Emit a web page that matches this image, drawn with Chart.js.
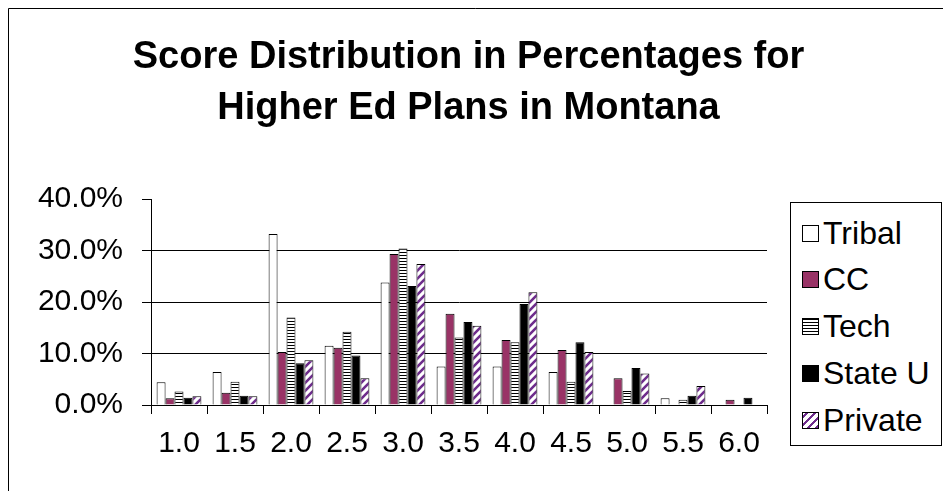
<!DOCTYPE html>
<html>
<head>
<meta charset="utf-8">
<script src="https://cdn.jsdelivr.net/npm/chart.js@4"></script>
<style>
  html, body { margin: 0; padding: 0; background: #fff; }
  #wrap { position: relative; width: 943px; height: 491px; overflow: hidden; }
  #legend {
    position: absolute; left: 790px; top: 202px; width: 152px; height: 244px;
    border: 1px solid #000; box-sizing: border-box; background: #fff;
    font-family: 'Liberation Sans', Arial, sans-serif; font-size: 32px; color: #000;
  }
  .item { position: absolute; left: 11px; height: 32px; display: flex; align-items: center; white-space: nowrap; }
  .sw { width: 17px; height: 17px; border: 1px solid #000; box-sizing: border-box; margin-right: 4px; flex: none; }
</style>
</head>
<body>
<div id="wrap">
  <canvas id="c" width="943" height="491"></canvas>
  <div id="legend"></div>
</div>
<script>
// Score categories along the x axis
const categories = ['1.0', '1.5', '2.0', '2.5', '3.0', '3.5', '4.0', '4.5', '5.0', '5.5', '6.0'];

// Share of scores (%) per institution type
const tribal  = [4.4, 6.4, 33.2, 11.5, 23.8, 7.5, 7.5, 6.4, 0, 1.3, 0];
const cc      = [1.3, 2.4, 10.3, 11.1, 29.3, 17.7, 12.6, 10.7, 5.2, 0, 1.0];
const tech    = [2.6, 4.5, 17.0, 14.2, 30.4, 13.1, 12.2, 4.5, 2.7, 1.0, 0];
const stateU  = [1.4, 1.8, 8.1, 9.6, 23.1, 16.1, 19.6, 12.2, 7.2, 1.8, 1.4];
const privateU = [1.7, 1.7, 8.7, 5.2, 27.4, 15.4, 21.9, 10.3, 6.1, 3.7, 0];

const seriesNames = ['Tribal', 'CC', 'Tech', 'State U', 'Private'];
const titleLines = ['Score Distribution in Percentages for', 'Higher Ed Plans in Montana'];

const FONT = "'Liberation Sans', Arial, sans-serif";
const MAROON = '#993366';
const PURPLE = '#6E2C8C';

const canvas = document.getElementById('c');
const ctx = canvas.getContext('2d');

// Horizontal black/white stripes
function hStripes() {
  const t = document.createElement('canvas');
  t.width = 4; t.height = 3;
  const g = t.getContext('2d');
  g.fillStyle = '#fff'; g.fillRect(0, 0, 4, 3);
  g.fillStyle = '#000'; g.fillRect(0, 0, 4, 1);
  return ctx.createPattern(t, 'repeat');
}

// Diagonal purple/white stripes rising to the right
function dStripes() {
  const t = document.createElement('canvas');
  t.width = 8; t.height = 8;
  const g = t.getContext('2d');
  g.fillStyle = '#fff'; g.fillRect(0, 0, 8, 8);
  g.strokeStyle = PURPLE; g.lineWidth = 2.6;
  g.beginPath();
  g.moveTo(-2, 10); g.lineTo(10, -2);
  g.moveTo(-6, 6); g.lineTo(6, -6);
  g.moveTo(2, 14); g.lineTo(14, 2);
  g.stroke();
  return ctx.createPattern(t, 'repeat');
}

const fills = ['#fff', MAROON, hStripes(), '#000', dStripes()];
const swatchCss = [
  'background:#fff',
  'background:' + MAROON,
  'background:repeating-linear-gradient(to bottom,#000 0 1px,#fff 1px 3px)',
  'background:#000',
  'background:repeating-linear-gradient(135deg,#fff 0 2px,' + PURPLE + ' 2px 4px,#fff 4px 5.6px)'
];
const seriesData = [tribal, cc, tech, stateU, privateU];

// Outer frame of the chart object
const frame = {
  id: 'frame',
  beforeDraw(chart) {
    const c = chart.ctx;
    c.save();
    c.fillStyle = '#fff';
    c.fillRect(0, 0, chart.width, chart.height);
    c.strokeStyle = '#000';
    c.lineWidth = 1;
    c.beginPath();
    c.moveTo(8.5, chart.height);
    c.lineTo(8.5, 8.5);
    c.lineTo(chart.width, 8.5);
    c.stroke();
    c.restore();
  }
};

Chart.defaults.font.family = FONT;
Chart.defaults.color = '#000';

new Chart(canvas, {
  type: 'bar',
  data: {
    labels: categories,
    datasets: seriesNames.map((name, i) => ({
      label: name,
      data: seriesData[i],
      backgroundColor: fills[i],
      borderColor: '#000',
      borderWidth: 1
    }))
  },
  options: {
    responsive: false,
    animation: false,
    devicePixelRatio: 1,
    layout: { padding: { top: 9, left: 0, right: 6, bottom: 24 } },
    datasets: { bar: { categoryPercentage: 0.8, barPercentage: 1 } },
    plugins: {
      legend: { display: false },
      tooltip: { enabled: false },
      title: {
        display: true,
        text: titleLines,
        color: '#000',
        font: { size: 38, weight: 'bold', lineHeight: '51px' },
        padding: { top: 23.5, bottom: 64.5 }
      }
    },
    scales: {
      x: {
        grid: { display: true, drawOnChartArea: false, drawTicks: true, tickLength: 9, color: '#000', tickColor: '#000', offset: true },
        border: { display: true, color: '#000', width: 1 },
        ticks: { color: '#000', font: { size: 30 }, padding: 12, maxRotation: 0, autoSkip: false },
        afterFit: s => { s.height = 62; }
      },
      y: {
        min: 0,
        max: 40,
        ticks: { stepSize: 10, color: '#000', font: { size: 30 }, padding: 19, callback: v => v.toFixed(1) + '%' },
        grid: {
          color: c => (c.tick && c.tick.value === 40 ? 'rgba(0,0,0,0)' : '#000'),
          tickColor: '#000',
          tickLength: 9,
          lineWidth: 1
        },
        border: { display: true, color: '#000' },
        afterFit: s => { s.width = 151; }
      },
      spacer: {
        type: 'linear',
        axis: 'y',
        position: 'right',
        display: true,
        grid: { display: false },
        border: { display: false },
        ticks: { display: false },
        afterFit: s => { s.width = 170; }
      }
    }
  },
  plugins: [frame]
});

// Legend box on the right
const legend = document.getElementById('legend');
seriesNames.forEach((name, i) => {
  const item = document.createElement('div');
  item.className = 'item';
  item.style.top = (14 + i * 46.75) + 'px';
  const sw = document.createElement('span');
  sw.className = 'sw';
  sw.style.cssText = swatchCss[i];
  const label = document.createElement('span');
  label.textContent = name;
  item.appendChild(sw);
  item.appendChild(label);
  legend.appendChild(item);
});
</script>
</body>
</html>
